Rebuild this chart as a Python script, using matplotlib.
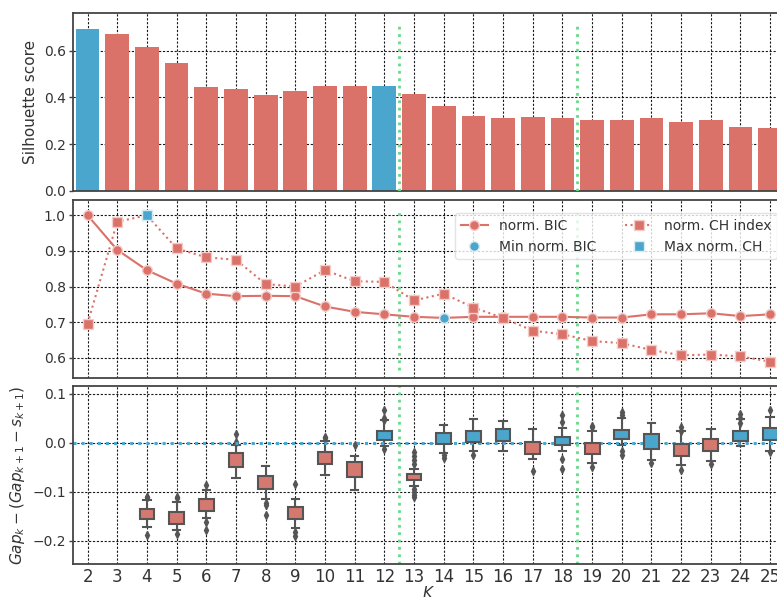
# silhouette / BIC+CH / gap statistic for K = 2..25

import matplotlib.pyplot as plt

red = '#da726a'
blue = '#4ba6cd'
green = '#66d98a'
gray = '#555555'

K = list(range(2, 26))

# silhouette score
sil = [0.693, 0.672, 0.616, 0.549, 0.444, 0.436, 0.410, 0.427, 0.449, 0.449, 0.449, 0.414,
       0.363, 0.320, 0.312, 0.316, 0.312, 0.303, 0.303, 0.312, 0.294, 0.303, 0.273, 0.269]
sil_best = [2, 12]

# normalised BIC and CH index
bic = [1.0, 0.903, 0.846, 0.808, 0.780, 0.773, 0.774, 0.773, 0.744, 0.729, 0.722, 0.715,
       0.712, 0.715, 0.715, 0.715, 0.715, 0.713, 0.713, 0.722, 0.722, 0.725, 0.717, 0.722]
ch = [0.696, 0.982, 1.0, 0.907, 0.882, 0.875, 0.807, 0.800, 0.846, 0.815, 0.813, 0.761,
      0.780, 0.741, 0.712, 0.676, 0.666, 0.647, 0.641, 0.622, 0.607, 0.609, 0.604, 0.589]
bic_min_k = 14
ch_max_k = 4

# gap statistic boxes (K = 4..25)
gap_k = list(range(4, 26))
gap_med = [-0.145, -0.152, -0.126, -0.036, -0.082, -0.142, -0.031, -0.053, 0.016, -0.070, 0.008,
           0.012, 0.018, -0.009, 0.003, -0.012, 0.016, 0.008, -0.016, -0.005, 0.015, 0.017]
gap_q1 = [-0.155, -0.166, -0.139, -0.050, -0.095, -0.155, -0.044, -0.071, 0.006, -0.077, -0.002,
          0.001, 0.003, -0.024, -0.004, -0.024, 0.007, -0.012, -0.028, -0.017, 0.003, 0.006]
gap_q3 = [-0.135, -0.142, -0.115, -0.022, -0.068, -0.132, -0.018, -0.040, 0.024, -0.063, 0.020,
          0.025, 0.029, 0.001, 0.012, 0.000, 0.027, 0.018, -0.003, 0.007, 0.024, 0.031]
gap_lo = [-0.173, -0.179, -0.153, -0.072, -0.115, -0.174, -0.065, -0.097, -0.007, -0.089, -0.020,
          -0.017, -0.017, -0.034, -0.017, -0.041, -0.005, -0.036, -0.046, -0.037, -0.007, -0.016]
gap_hi = [-0.118, -0.121, -0.097, -0.005, -0.048, -0.115, 0.003, -0.027, 0.047, -0.053, 0.037,
          0.048, 0.044, 0.029, 0.031, 0.025, 0.050, 0.041, 0.025, 0.029, 0.048, 0.052]
gap_fliers = [[-0.110, -0.112, -0.188], [-0.110, -0.114, -0.187], [-0.087, -0.162, -0.178],
              [0.001, 0.018], [-0.123, -0.128, -0.147], [-0.085, -0.183, -0.190],
              [0.012, 0.009], [-0.005], [0.067, 0.050, 0.046, -0.012],
              [-0.019, -0.028, -0.036, -0.043, -0.094, -0.100, -0.106, -0.111],
              [-0.026, -0.031], [-0.026], [], [-0.058], [0.056, 0.042, -0.034, -0.053],
              [0.035, 0.032, -0.050], [0.063, 0.056, -0.016, -0.026], [-0.042],
              [0.032, 0.025, -0.055], [-0.044], [0.059, 0.050, 0.040], [0.066, -0.018]]

split_k = [12.5, 18.5]

plt.rcParams['font.family'] = ['DejaVu Sans']
plt.rcParams['font.size'] = 10
plt.rcParams['text.color'] = '#333333'
plt.rcParams['axes.labelcolor'] = '#333333'
plt.rcParams['xtick.color'] = '#333333'
plt.rcParams['ytick.color'] = '#333333'

fig = plt.figure(figsize=(7.77, 5.97), dpi=100)
left, width = 0.0936, 0.9167
ax1 = fig.add_axes([left, 0.6806, width, 0.2981])
ax2 = fig.add_axes([left, 0.3673, width, 0.2977])
ax3 = fig.add_axes([left, 0.0553, width, 0.2981])

for ax in (ax1, ax2, ax3):
    ax.set_xlim(1.5, 25.5)
    ax.set_xticks(K)
    ax.grid(True, color='k', linestyle=(0, (2, 1.5)), linewidth=0.8, alpha=0.9)
    ax.set_axisbelow(True)
    for s in ax.spines.values():
        s.set_color('#444444')
        s.set_linewidth(1.3)
    ax.tick_params(axis='y', length=3, width=1, color='#444444', pad=2, labelsize=10)
    ax.tick_params(axis='x', length=0, pad=3, labelsize=12)
ax1.tick_params(labelbottom=False)
ax2.tick_params(labelbottom=False)

# top: silhouette bars
bar_colors = [blue if k in sil_best else red for k in K]
ax1.bar(K, sil, width=0.8, color=bar_colors, zorder=2)
ax1.set_ylim(0, 0.763)
ax1.set_yticks([0.0, 0.2, 0.4, 0.6])
ax1.set_ylabel('Silhouette score', fontsize=11)
for x in split_k:
    ax1.vlines(x, 0, 0.725, color=green, linestyle=':', linewidth=2, zorder=3)

# middle: BIC and CH
ax2.plot(K, bic, color=red, marker='o', ms=7, mec='#f4cdca', mew=1, lw=1.5,
         label='norm. BIC', zorder=3)
ax2.plot([bic_min_k], [bic[K.index(bic_min_k)]], 'o', color=blue, ms=7, mec='#d6ecf5',
         mew=1, label='Min norm. BIC', zorder=4)
ax2.plot(K, ch, color=red, marker='s', ms=7, mec='#f4cdca', mew=1, lw=1.5, ls=':',
         label='norm. CH index', zorder=3)
ax2.plot([ch_max_k], [ch[K.index(ch_max_k)]], 's', color=blue, ms=7, mec='#d6ecf5',
         mew=1, label='Max norm. CH', zorder=4)
ax2.set_ylim(0.544, 1.043)
ax2.set_yticks([0.6, 0.7, 0.8, 0.9, 1.0])
for x in split_k:
    ax2.vlines(x, 0.565, 1.01, color=green, linestyle=':', linewidth=2, zorder=2)
ax2.legend(ncol=2, loc='upper left', bbox_to_anchor=(0.527, 0.965), framealpha=0.8,
           edgecolor='#dddddd', fontsize=10, handlelength=2.0, columnspacing=2.0)

# bottom: gap statistic
stats = []
for i in range(len(gap_k)):
    stats.append({'med': gap_med[i], 'q1': gap_q1[i], 'q3': gap_q3[i],
                  'whislo': gap_lo[i], 'whishi': gap_hi[i], 'fliers': gap_fliers[i]})
bp = ax3.bxp(stats, positions=gap_k, widths=0.5, patch_artist=True, manage_ticks=False,
             boxprops=dict(edgecolor=gray, linewidth=1.5),
             medianprops=dict(color=gray, linewidth=1.5),
             whiskerprops=dict(color=gray, linewidth=1.5),
             capprops=dict(color=gray, linewidth=1.5),
             flierprops=dict(marker='d', markerfacecolor=gray, markeredgecolor=gray,
                             markersize=4))
for box, m in zip(bp['boxes'], gap_med):
    box.set_facecolor(blue if m > 0 else '#d5786f')
    box.set_zorder(3)
ax3.axhline(0, color=blue, linestyle=':', linewidth=2.2, zorder=2)
for x in split_k:
    ax3.axvline(x, color=green, linestyle=':', linewidth=2, zorder=2)
ax3.set_ylim(-0.248, 0.116)
ax3.set_yticks([-0.2, -0.1, 0.0, 0.1])
ax3.set_ylabel(r'$Gap_k - (Gap_{k+1} - s_{k+1})$', fontsize=11)
ax3.set_xlabel(r'$K$', fontsize=11, labelpad=-1)

fig.savefig('out.png', dpi=100)
